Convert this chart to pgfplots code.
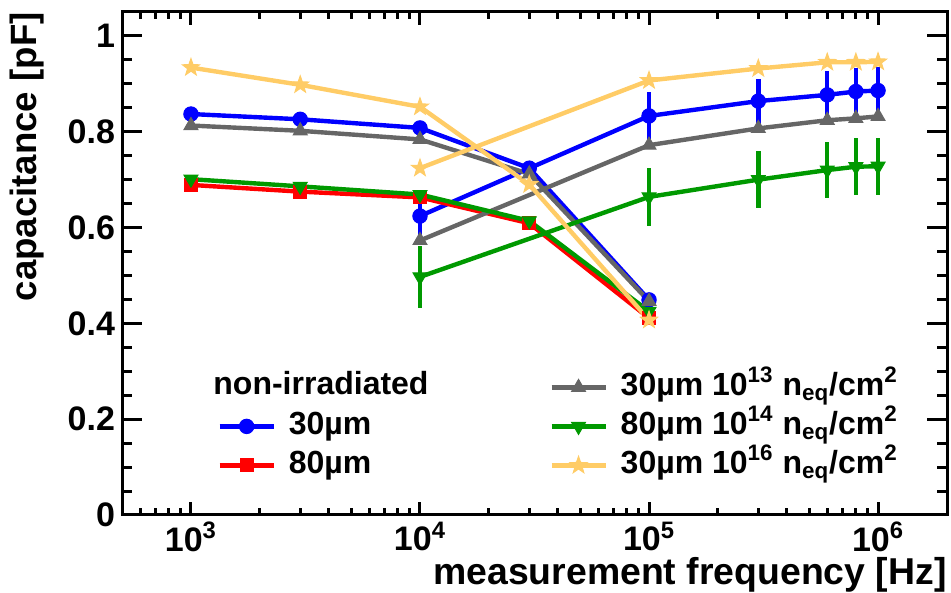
\documentclass[border=0pt]{standalone}
\usepackage{pgfplots}
\pgfplotsset{compat=1.18}
\usepackage{fontspec}
\setmainfont{Liberation Sans}
\definecolor{cblue}{RGB}{0,0,255}
\definecolor{cred}{RGB}{255,0,0}
\definecolor{cgray}{RGB}{102,102,102}
\definecolor{cgreen}{RGB}{0,153,0}
\definecolor{corange}{RGB}{255,204,102}
\pgfdeclareplotmark{fstar}{%
 \pgfpathmoveto{\pgfpointpolar{90}{1.25\pgfplotmarksize}}%
 \pgfpathlineto{\pgfpointpolar{126}{0.5\pgfplotmarksize}}%
 \pgfpathlineto{\pgfpointpolar{162}{1.25\pgfplotmarksize}}%
 \pgfpathlineto{\pgfpointpolar{198}{0.5\pgfplotmarksize}}%
 \pgfpathlineto{\pgfpointpolar{234}{1.25\pgfplotmarksize}}%
 \pgfpathlineto{\pgfpointpolar{270}{0.5\pgfplotmarksize}}%
 \pgfpathlineto{\pgfpointpolar{306}{1.25\pgfplotmarksize}}%
 \pgfpathlineto{\pgfpointpolar{342}{0.5\pgfplotmarksize}}%
 \pgfpathlineto{\pgfpointpolar{18}{1.25\pgfplotmarksize}}%
 \pgfpathlineto{\pgfpointpolar{54}{0.5\pgfplotmarksize}}%
 \pgfpathclose
 \pgfusepathqfillstroke}
\pgfplotsset{
 sblue/.style={color=cblue, line width=2.2pt, mark=*, mark size=3.6pt, mark options={solid, fill=cblue, line width=0.5pt}},
 sred/.style={color=cred, line width=2.2pt, mark=square*, mark size=3.2pt, mark options={solid, fill=cred, line width=0.5pt}},
 sgray/.style={color=cgray, line width=2.2pt, mark=triangle*, mark size=4pt, mark options={solid, fill=cgray, line width=0.5pt}},
 sgreen/.style={color=cgreen, line width=2.2pt, mark=triangle*, mark size=4pt, mark options={solid, fill=cgreen, rotate=180, line width=0.5pt}},
 sorange/.style={color=corange, line width=2.2pt, mark=fstar, mark size=3.6pt, mark options={solid, fill=corange, line width=0.5pt}},
 ebars/.style={error bars/.cd, y dir=both, y explicit, error mark=none, error bar style={line width=2.2pt}},
}
\begin{document}
\begin{tikzpicture}
\begin{axis}[
 scale only axis, width=412.5pt, height=251.5pt,
 xmode=log, xmin=500, xmax=2e6, ymin=0, ymax=1.05,
 axis line style={line width=1.5pt},
 tick align=inside,
 every tick/.style={black, line width=1.5pt},
 xtick style={/pgfplots/major tick length=6.5pt,/pgfplots/minor tick length=3.5pt},
 ytick style={/pgfplots/major tick length=10pt,/pgfplots/minor tick length=5pt},
 xtick={1e3,1e4,1e5,1e6},
 xticklabels={10\textsuperscript{3},10\textsuperscript{4},10\textsuperscript{5},10\textsuperscript{6}},
 minor xtick={500,600,700,800,900,2000,3000,4000,5000,6000,7000,8000,9000,20000,30000,40000,50000,60000,70000,80000,90000,200000,300000,400000,500000,600000,700000,800000,900000,2000000},
 ytick={0,0.2,0.4,0.6,0.8,1},
 yticklabels={0,0.2,0.4,0.6,0.8,1},
 minor ytick={0.05,0.1,0.15,0.25,0.3,0.35,0.45,0.5,0.55,0.65,0.7,0.75,0.85,0.9,0.95,1.05},
 ticklabel style={font=\fontsize{17}{20}\selectfont\bfseries},
 ylabel={capacitance [pF]},
 ylabel style={at={(rel axis cs:-0.1358,1)}, anchor=north east, inner sep=0pt, font=\fontsize{18.3}{21}\selectfont\bfseries},
 xlabel={measurement frequency [Hz]},
 xlabel style={at={(rel axis cs:1,-0.1551)}, anchor=south east, inner sep=0pt, font=\fontsize{18.7}{21}\selectfont\bfseries},
 legend columns=2,
 legend cell align=left,
 legend image code/.code={\draw[mark repeat=2,mark phase=2,#1] plot coordinates {(0pt,0pt)(13.5pt,0pt)(27pt,0pt)};},
 legend style={at={(rel axis cs:0.1152,0.2863)}, anchor=north west, draw=none, fill=none,
   font=\fontsize{16}{19}\selectfont\bfseries, inner sep=0pt, row sep=3.5pt,
   nodes={inner sep=0pt, text height=12pt, text depth=4pt},
   /tikz/every odd column/.style={column sep=6.5pt},
   /tikz/every even column/.style={column sep=89pt}},
]
% 30um non-irradiated
\addplot[sblue, forget plot] coordinates {(1000,0.837)(3000,0.826)(10000,0.808)(30000,0.724)(100000,0.449)};
\addplot[sblue, forget plot, ebars] coordinates {(10000,0.624) +- (0,0.045) (100000,0.833) +- (0,0.05) (300000,0.864) +- (0,0.047) (600000,0.877) +- (0,0.05) (800000,0.884) +- (0,0.05) (1000000,0.886) +- (0,0.05)};
% 80um non-irradiated
\addplot[sred, forget plot] coordinates {(1000,0.689)(3000,0.675)(10000,0.663)(30000,0.609)(100000,0.411)};
% 30um 1e13
\addplot[sgray, forget plot] coordinates {(1000,0.813)(3000,0.802)(10000,0.784)(30000,0.712)(100000,0.446)};
\addplot[sgray, forget plot] coordinates {(10000,0.573)(100000,0.772)(300000,0.807)(600000,0.824)(800000,0.828)(1000000,0.832)};
% 80um 1e14
\addplot[sgreen, forget plot] coordinates {(1000,0.701)(3000,0.686)(10000,0.669)(30000,0.614)(100000,0.425)};
\addplot[sgreen, forget plot, ebars] coordinates {(10000,0.497) +- (0,0.065) (100000,0.664) +- (0,0.06) (300000,0.700) +- (0,0.06) (600000,0.720) +- (0,0.058) (800000,0.727) +- (0,0.06) (1000000,0.728) +- (0,0.06)};
% 30um 1e16
\addplot[sorange, forget plot] coordinates {(1000,0.934)(3000,0.898)(10000,0.852)(30000,0.690)(100000,0.407)};
\addplot[sorange, forget plot] coordinates {(10000,0.724)(100000,0.907)(300000,0.932)(600000,0.945)(800000,0.945)(1000000,0.946)};
% legend
\addlegendimage{empty legend}\addlegendentry{}
\addlegendimage{sgray}\addlegendentry{30µm 10\textsuperscript{13} n\textsubscript{eq}/cm\textsuperscript{2}}
\addlegendimage{sblue}\addlegendentry{30µm}
\addlegendimage{sgreen}\addlegendentry{80µm 10\textsuperscript{14} n\textsubscript{eq}/cm\textsuperscript{2}}
\addlegendimage{sred}\addlegendentry{80µm}
\addlegendimage{sorange}\addlegendentry{30µm 10\textsuperscript{16} n\textsubscript{eq}/cm\textsuperscript{2}}
\node[anchor=base west, inner sep=0pt, font=\fontsize{16}{19}\selectfont\bfseries] at (rel axis cs:0.1103,0.2386) {non-irradiated};
\end{axis}
\pgfresetboundingbox
\path ([shift={(-61pt,-39pt)}]current axis.south west) rectangle ([shift={(2pt,6pt)}]current axis.north east);
\end{tikzpicture}
\end{document}
